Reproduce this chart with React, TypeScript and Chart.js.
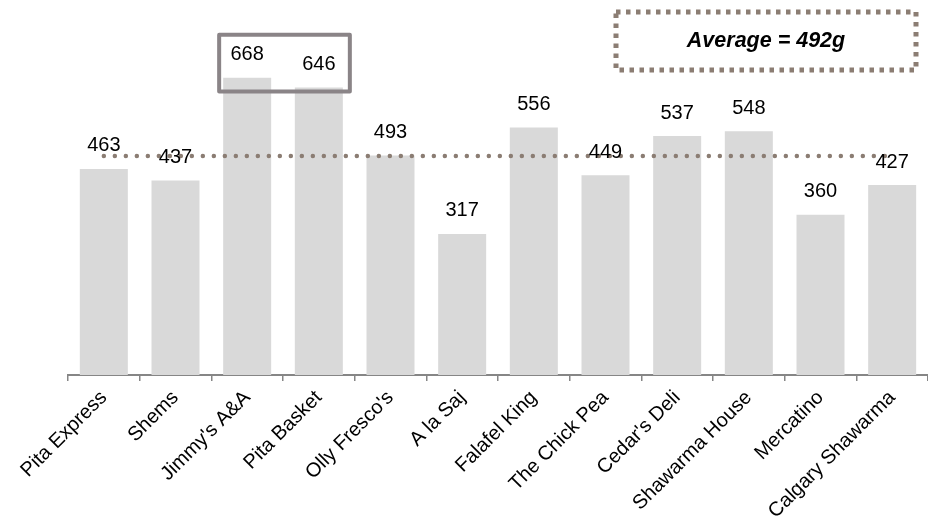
import React, { useEffect, useRef } from "react";
import { Chart, registerables } from "chart.js";

Chart.register(...registerables);

const categories = [
  "Pita Express",
  "Shems",
  "Jimmy's A&A",
  "Pita Basket",
  "Olly Fresco's",
  "A la Saj",
  "Falafel King",
  "The Chick Pea",
  "Cedar's Deli",
  "Shawarma House",
  "Mercatino",
  "Calgary Shawarma",
];
const weights = [463, 437, 668, 646, 493, 317, 556, 449, 537, 548, 360, 427];
const averageValue = 492;
const averageLabel = "Average = 492g";
const highlighted = [2, 3];

const FONT = "'Liberation Sans', Arial, sans-serif";
const BROWN = "#8b7d73";

const overlayPlugin = {
  id: "overlay",
  afterDatasetsDraw(chart: any) {
    const ctx = chart.ctx;
    const meta = chart.getDatasetMeta(0);
    const y = chart.scales.y;
    ctx.save();
    // value labels
    ctx.fillStyle = "#000";
    ctx.font = `20px ${FONT}`;
    ctx.textAlign = "center";
    ctx.textBaseline = "middle";
    meta.data.forEach((bar: any, i: number) => {
      ctx.fillText(String(weights[i]), bar.x, bar.y - 23);
    });
    // highlight box
    const b1 = meta.data[highlighted[0]];
    const b2 = meta.data[highlighted[1]];
    const left = b1.x - b1.width / 2 - 4;
    const right = b2.x + b2.width / 2 + 7;
    const top = y.getPixelForValue(weights[highlighted[0]]) - 43;
    const bottom = y.getPixelForValue(weights[highlighted[1]]) + 4;
    ctx.strokeStyle = "#8a8487";
    ctx.lineWidth = 4;
    ctx.lineJoin = "round";
    ctx.beginPath();
    ctx.rect(left, top, right - left, bottom - top);
    ctx.stroke();
    // average box
    const ca = chart.chartArea;
    const bx1 = ca.right - 312;
    const bx2 = ca.right - 12;
    const by1 = 12;
    const by2 = 70;
    ctx.strokeStyle = BROWN;
    ctx.lineWidth = 5;
    ctx.lineJoin = "miter";
    ctx.setLineDash([4.5, 5.5]);
    ctx.beginPath();
    ctx.rect(bx1, by1, bx2 - bx1, by2 - by1);
    ctx.stroke();
    ctx.setLineDash([]);
    ctx.fillStyle = "#000";
    ctx.font = `italic bold 21.5px ${FONT}`;
    ctx.fillText(averageLabel, (bx1 + bx2) / 2, (by1 + by2) / 2);
    ctx.restore();
  },
};

export default function App() {
  const ref = useRef<HTMLCanvasElement>(null);
  useEffect(() => {
    if (!ref.current) return;
    const chart = new Chart(ref.current, {
      type: "bar",
      data: {
        labels: categories,
        datasets: [
          {
            type: "bar",
            data: weights,
            backgroundColor: "#d9d9d9",
            borderWidth: 0,
            barPercentage: 0.67,
            categoryPercentage: 1,
            order: 1,
          },
          {
            type: "line",
            data: categories.map(() => averageValue),
            borderColor: BROWN,
            borderWidth: 4.5,
            borderDash: [0, 11],
            borderCapStyle: "round",
            pointRadius: 0,
            fill: false,
            order: 0,
          } as any,
        ],
      },
      options: {
        animation: false,
        responsive: false,
        layout: { padding: { left: 68, top: 19, right: 0, bottom: 0 } },
        plugins: {
          legend: { display: false },
          tooltip: { enabled: false },
          title: { display: false },
        },
        scales: {
          x: {
            offset: true,
            grid: {
              display: true,
              offset: true,
              drawOnChartArea: false,
              drawTicks: true,
              tickLength: 6,
              color: "#868686",
              lineWidth: 1.5,
            },
            border: { display: true, color: "#868686", width: 2 },
            ticks: {
              color: "#000",
              font: { family: FONT, size: 20 },
              minRotation: 45,
              maxRotation: 45,
              autoSkip: false,
              padding: 5,
            },
            afterFit(scale: any) {
              scale.height = 152;
              scale.paddingLeft = 0;
              scale.paddingRight = 0;
            },
          },
          y: {
            display: false,
            min: 0,
            max: 800,
          },
        },
      },
      plugins: [overlayPlugin],
    });
    return () => chart.destroy();
  }, []);
  return (
    <div style={{ position: "absolute", left: 0, top: 0, width: 928, height: 527, background: "#fff" }}>
      <canvas ref={ref} width={928} height={527} />
    </div>
  );
}
